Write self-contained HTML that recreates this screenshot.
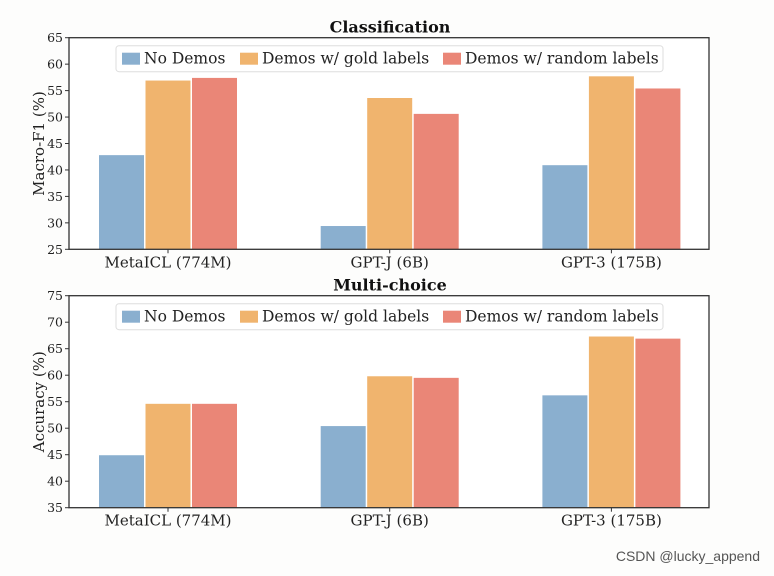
<!DOCTYPE html>
<html><head><meta charset="utf-8"><style>
html,body{margin:0;padding:0;background:#fdfdfc;}
svg{display:block;font-family:"DejaVu Serif","Liberation Serif",serif;}
</style></head><body>
<svg id="chart" width="774" height="576" viewBox="0 0 774 576"></svg>
<script>
const categories = ["MetaICL (774M)", "GPT-J (6B)", "GPT-3 (175B)"];
const seriesNames = ["No Demos", "Demos w/ gold labels", "Demos w/ random labels"];
const clsNoDemos = [42.8, 29.4, 40.9];
const clsGold = [56.9, 53.6, 57.7];
const clsRandom = [57.4, 50.6, 55.4];
const mcNoDemos = [44.9, 50.4, 56.2];
const mcGold = [54.6, 59.8, 67.3];
const mcRandom = [54.6, 59.5, 66.9];
const clsTicks = [25, 30, 35, 40, 45, 50, 55, 60, 65];
const mcTicks = [35, 40, 45, 50, 55, 60, 65, 70, 75];

const colors = ["#8aafcf", "#f0b46e", "#ea8677"];
const NS = "http://www.w3.org/2000/svg";
const svg = document.getElementById("chart");
function mk(tag, attrs, parent) {
  const e = document.createElementNS(NS, tag);
  for (const k in attrs) e.setAttribute(k, attrs[k]);
  (parent || svg).appendChild(e);
  return e;
}
function panel(cfg) {
  const g = mk("g", {});
  
  
  const L = 69, R = 709, T = cfg.top, B = cfg.bottom;
  const ymin = cfg.ticks[0], ymax = cfg.ticks[cfg.ticks.length - 1];
  const y = v => B - (v - ymin) / (ymax - ymin) * (B - T);
  const x0 = 168, gstep = 221.7, bstep = 46.5, bw = 45;
  const xc = i => x0 + i * gstep;
  mk("rect", {x: L, y: T, width: R - L, height: B - T, fill: "#ffffff"}, g);
  cfg.series.forEach((vals, s) => {
    vals.forEach((v, i) => {
      const cx = xc(i) + (s - 1) * bstep;
      const r = mk("rect", {x: cx - bw / 2, y: y(v), width: bw, height: B - y(v), fill: colors[s]}, g);
      
      
    });
  });
  mk("rect", {x: L, y: T, width: R - L, height: B - T, fill: "none", stroke: "#333", "stroke-width": 1.3}, g);
  cfg.ticks.forEach(t => {
    mk("line", {x1: L - 4, x2: L, y1: y(t), y2: y(t), stroke: "#333", "stroke-width": 1}, g);
    const tx = mk("text", {x: L - 6, y: y(t) + 4.5, "text-anchor": "end", "font-size": 12.5, fill: "#222"}, g);
    tx.textContent = t;
    
    
  });
  categories.forEach((c, i) => {
    mk("line", {x1: xc(i), x2: xc(i), y1: B, y2: B + 4, stroke: "#333", "stroke-width": 1}, g);
    const tx = mk("text", {x: xc(i), y: B + 18, "text-anchor": "middle", "font-size": 15, fill: "#222"}, g);
    tx.textContent = c;
    
    
  });
  const yl = mk("text", {x: 0, y: 0, "text-anchor": "middle", "font-size": 15, fill: "#222", transform: `translate(44,${(T + B) / 2}) rotate(-90)`}, g);
  yl.textContent = cfg.ylabel;
  
  
  const ti = mk("text", {x: 390, y: T - 5, "text-anchor": "middle", "font-size": 16, "font-weight": "bold", fill: "#111"}, g);
  ti.textContent = cfg.title;
  
  
  const lg = mk("g", {}, g);
  
  
  mk("rect", {x: 116, y: T + 8, width: 547, height: 26, rx: 3, fill: "#ffffff", stroke: "#ddd", "stroke-width": 1}, lg);
  const lx = [122, 240, 443];
  seriesNames.forEach((n, s) => {
    const e = mk("g", {}, lg);
    
    
    mk("rect", {x: lx[s], y: T + 15, width: 18, height: 12, fill: colors[s]}, e);
    const tx = mk("text", {x: lx[s] + 22, y: T + 26, "font-size": 15.5, fill: "#222"}, e);
    tx.textContent = n;
  });
}
panel({name: "classification-panel", short: "cls", title: "Classification", ylabel: "Macro-F1 (%)", top: 37.7, bottom: 249.3, ticks: clsTicks, series: [clsNoDemos, clsGold, clsRandom]});
panel({name: "multichoice-panel", short: "mc", title: "Multi-choice", ylabel: "Accuracy (%)", top: 295.7, bottom: 507.7, ticks: mcTicks, series: [mcNoDemos, mcGold, mcRandom]});
const wm = mk("text", {x: 760, y: 561, "text-anchor": "end", "font-size": 14, fill: "#555", "font-family": "Liberation Sans, sans-serif"});
wm.textContent = "CSDN @lucky_append";


</script>
</body></html>
